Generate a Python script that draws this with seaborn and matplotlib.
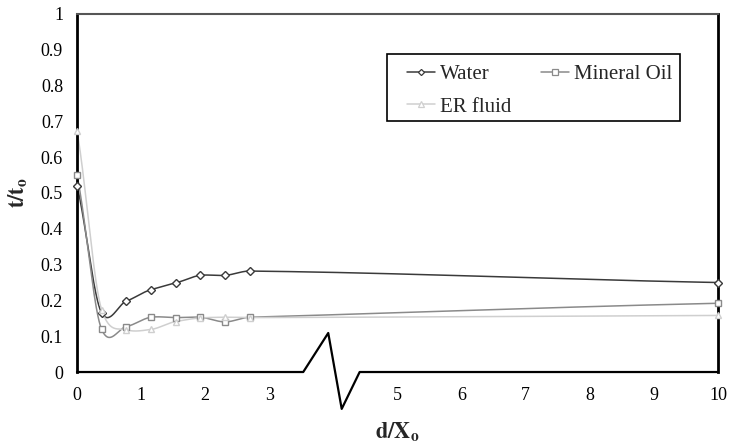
import numpy as np
import pandas as pd
import seaborn as sns
import matplotlib.pyplot as plt
from matplotlib.lines import Line2D
from matplotlib.patches import Rectangle

# datos
x_pos = [0, 0.385, 0.77, 1.155, 1.54, 1.925, 2.31, 2.695, 10]
water = [0.52, 0.165, 0.198, 0.230, 0.249, 0.270, 0.270, 0.282, 0.25]
mineral_oil = [0.55, 0.119, 0.127, 0.153, 0.152, 0.153, 0.140, 0.153, 0.192]
er_fluid = [0.673, 0.174, 0.118, 0.119, 0.141, 0.151, 0.153, 0.152, 0.158]
series_names = ['Water', 'Mineral Oil', 'ER fluid']
x_ticks = [0, 1, 2, 3, 5, 6, 7, 8, 9, 10]
y_ticks = [0, 0.1, 0.2, 0.3, 0.4, 0.5, 0.6, 0.7, 0.8, 0.9, 1]
# quiebre del eje x (decoracion)
axis_break_x = [0, 3.53, 3.92, 4.13, 4.41, 10]
axis_break_y = [0, 0, 0.109, -0.103, 0, 0]

sns.set_theme(style='white')
plt.rcParams['font.family'] = ['Liberation Serif', 'DejaVu Serif']
plt.rcParams['mathtext.fontset'] = 'stix'


def suavizar(xs, ys, n=60, tension=0.75):
    # linea suavizada tipo Excel (hermite cubico con tangentes catmull-rom)
    xs = np.asarray(xs, float)
    ys = np.asarray(ys, float)
    m = np.zeros_like(ys)
    for i in range(len(xs)):
        a = max(i - 1, 0)
        b = min(i + 1, len(xs) - 1)
        m[i] = tension * (ys[b] - ys[a]) / (xs[b] - xs[a])
    px, py = [], []
    for i in range(len(xs) - 1):
        h = xs[i + 1] - xs[i]
        t = np.linspace(0, 1, n)
        if i > 0:
            t = t[1:]
        c1 = ys[i] + m[i] * h / 3
        c2 = ys[i + 1] - m[i + 1] * h / 3
        px.append(xs[i] + h * t)
        py.append((1 - t) ** 3 * ys[i] + 3 * (1 - t) ** 2 * t * c1 + 3 * (1 - t) * t ** 2 * c2 + t ** 3 * ys[i + 1])
    return np.concatenate(px), np.concatenate(py)


estilos = {
    'Water': dict(color='#3a3a3a', marker='D', ms=3.6),
    'Mineral Oil': dict(color='#8a8a8a', marker='s', ms=5),
    'ER fluid': dict(color='#cfcfcf', marker='^', ms=5),
}

fig = plt.figure(figsize=(7.33, 4.48), dpi=100)
ax = fig.add_axes([0.105, 0.1696, 0.8745, 0.7992])

handles = {}
for nombre, vals in zip(series_names, [water, mineral_oil, er_fluid]):
    st = estilos[nombre]
    sx, sy = suavizar(x_pos, vals)
    df = pd.DataFrame({'x': sx, 'y': sy})
    sns.lineplot(data=df, x='x', y='y', sort=False, estimator=None, color=st['color'], lw=1.1, ax=ax, clip_on=False)
    dm = pd.DataFrame({'x': x_pos, 'y': vals})
    ax.plot(dm['x'], dm['y'], ls='none', marker=st['marker'], ms=st['ms'], mfc='white',
            mec=st['color'], mew=1.0, clip_on=False, zorder=3)
    handles[nombre] = Line2D([], [], color=st['color'], lw=1.1, marker=st['marker'], ms=st['ms'] - 0.5,
                             mfc='white', mec=st['color'], mew=0.9)

ax.set_xlim(0, 10)
ax.set_ylim(0, 1)
ax.set_xticks(x_ticks)
ax.set_xticklabels([str(t) for t in x_ticks])
ax.set_yticks(y_ticks)
ax.set_yticklabels(['0'] + [f'{t:.1f}' for t in y_ticks[1:-1]] + ['1'])
ax.tick_params(axis='both', direction='out', length=5, width=1.3, color='black', labelsize=13, labelcolor='black')
ax.tick_params(axis='x', pad=6)
ax.tick_params(axis='y', pad=5)

ax.spines['bottom'].set_visible(False)
ax.spines['left'].set_color('black')
ax.spines['left'].set_linewidth(2)
ax.spines['right'].set_color('black')
ax.spines['right'].set_linewidth(2)
ax.spines['top'].set_color('#555555')
ax.spines['top'].set_linewidth(1.5)
ax.plot(axis_break_x, axis_break_y, color='black', lw=1.6, clip_on=False, zorder=4)

ax.set_xlabel(r'$\mathbf{d/X_o}$', fontsize=16, labelpad=12)
ax.set_ylabel(r'$\mathbf{t/t_o}$', fontsize=16, labelpad=8)

# marco de la leyenda aparte (mas relleno a los lados que arriba/abajo)
ax.add_patch(Rectangle((0.4836, 0.7011), 0.4571, 0.1872, transform=ax.transAxes, facecolor='white',
                       edgecolor='black', lw=1.2, zorder=5))
# orden por columnas para que quede Water | Mineral Oil arriba y ER fluid abajo
orden = ['Water', 'ER fluid', 'Mineral Oil']
leg = ax.legend([handles[k] for k in orden], orden, ncol=2, loc='upper left', bbox_to_anchor=(0.5148, 0.859),
                borderaxespad=0, borderpad=0, fontsize=15, frameon=False,
                handlelength=1.35, handletextpad=0.25, columnspacing=1.4, labelspacing=0.62)
leg.set_zorder(6)

fig.savefig('out.png', dpi=100)
